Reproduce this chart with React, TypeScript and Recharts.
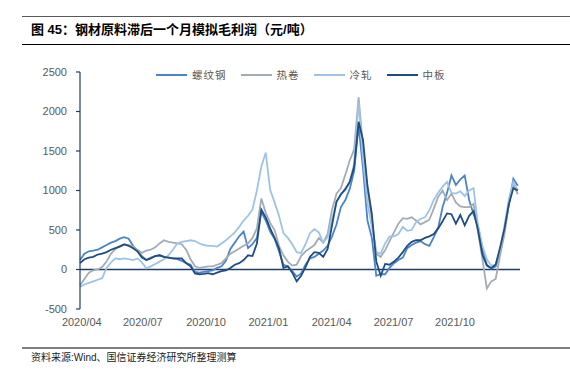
import { LineChart, Line, XAxis, YAxis, ReferenceLine } from 'recharts';

// ── Données (pas d'environ 6,5 jours) ──

const quarterLabels = ['2020/04', '2020/07', '2020/10', '2021/01', '2021/04', '2021/07', '2021/10'];
// position des débuts de trimestre sur l'index des observations
const quarterTicks = [0.4, 14.2, 28.5, 42.6, 56.9, 70.9, 84.8];
const yTicks = [-500, 0, 500, 1000, 1500, 2000, 2500];

// 螺纹钢
const rebar = [
  120, 200, 230, 240, 250, 280, 310, 340, 360, 390,
  410, 390, 300, 230, 170, 120, 150, 170, 180, 160,
  150, 140, 130, 110, 80, 60, -30, -40, -30, -20,
  -10, 20, 40, 110, 260, 340, 420, 480, 270, 320,
  400, 730, 620, 480, 390, 230, 60, 40, -20, -90,
  -50, 60, 140, 160, 200, 240, 300, 420, 570, 790,
  880, 1020, 1250, 1820, 1280, 620, 400, -80, -60, -60,
  20, 80, 120, 150, 270, 310, 340, 360, 320, 300,
  410, 530, 790, 970, 1190, 1070, 1140, 1190, 880, 700,
  550, 260, 60, 10, 40, 220, 500, 830, 1150, 1060,
];

// 热卷
const hot = [
  -200, -120, -40, -10, 0, 30, 100, 200, 260, 300,
  310, 310, 290, 250, 210, 240, 250, 280, 330, 370,
  350, 340, 330, 320, 250, 130, 40, 20, 30, 40,
  40, 60, 80, 140, 200, 230, 265, 300, 330, 400,
  520, 900, 720, 590, 500, 300, 180, 100, 50, 60,
  170, 230, 270, 310, 400, 340, 450, 760, 960, 1030,
  1200, 1380, 1520, 2180, 1550, 1010, 620, 200, 160, 245,
  360, 470, 580, 650, 640, 660, 620, 570, 600, 630,
  770, 920, 1000, 880, 960, 850, 800, 790, 790, 830,
  480, 130, -240, -150, -120, 180, 450, 840, 1080, 950,
];

// 冷轧
const cold = [
  -220, -190, -170, -150, -130, -110, 20, 90, 140, 130,
  140, 130, 120, 140, 90, 15, 40, 70, 100, 130,
  180, 250, 330, 350, 360, 370, 360, 330, 310, 300,
  300, 290, 330, 370, 420, 470, 540, 620, 680, 760,
  1000, 1300, 1480, 1010, 850, 680, 460, 400, 320, 220,
  210, 320, 460, 510, 470, 340, 410, 640, 850, 960,
  1000, 1100, 1350, 2120, 1400, 840, 540, 220, 200, 330,
  420, 420, 450, 540, 490, 500, 600, 640, 660, 750,
  880, 970, 1050, 1110, 970, 960, 990, 930, 1000, 1030,
  560, 300, 130, 50, 60, 250, 560, 900, 1110, 1000,
];

// 中板
const plate = [
  80, 130, 150, 160, 190, 200, 220, 250, 270, 290,
  320, 300, 270, 230, 150, 120, 140, 170, 180, 160,
  150, 140, 140, 140, 80, 40, -50, -60, -55, -45,
  -60, -40, -20, -10, 20, 60, 80, 120, 180, 170,
  330, 760, 660, 520, 400, 270, 20, 40, -40, -150,
  -80, 30, 160, 220, 210, 160, 260, 560, 860, 950,
  1020, 1110, 1300, 1870, 1640, 1060, 700, 100, -80, 70,
  60, 100, 150, 220, 300, 350, 370, 370, 400, 420,
  450, 520, 610, 710, 700, 580, 690, 560, 680, 740,
  500, 190, 50, 20, 60, 280, 520, 830, 1030, 1000,
];

const series = [
  { key: 'rebar', name: '螺纹钢', color: '#4A84CC' },
  { key: 'hot', name: '热卷', color: '#A3ABB5' },
  { key: 'cold', name: '冷轧', color: '#9DC3E8' },
  { key: 'plate', name: '中板', color: '#1F4E7E' },
];

const data = rebar.map((v, i) => ({
  t: i,
  rebar: v,
  hot: hot[i],
  cold: cold[i],
  plate: plate[i],
}));

const AXIS = '#1F3D6B';
const LABEL = '#595959';
const FONT = '"Liberation Sans", Arial, "Noto Sans CJK SC", sans-serif';

function XTick({ x, y, payload }: any) {
  const i = quarterTicks.indexOf(payload.value);
  return (
    <text x={x} y={y} dy="0.8em" textAnchor="middle" fill={LABEL} fontSize={11} fontFamily={FONT}>
      {quarterLabels[i]}
    </text>
  );
}

export default function App() {
  return (
    <div style={{ position: 'absolute', left: 0, top: 0, width: 570, height: 373, background: '#fff', fontFamily: FONT }}>
      <div style={{ position: 'absolute', left: 22, top: 16, width: 548, height: 1, background: '#595959' }} />
      <div style={{ position: 'absolute', left: 31, top: 22, fontSize: 13, fontWeight: 'bold', color: '#000', lineHeight: '16px', whiteSpace: 'nowrap' }}>
        图 45：钢材原料滞后一个月模拟毛利润（元/吨）
      </div>
      <div style={{ position: 'absolute', left: 22, top: 44, width: 548, height: 1, background: '#000' }} />

      <div style={{ position: 'absolute', left: 0, top: 0 }}>
        <LineChart width={570} height={373} data={data} margin={{ top: 72, right: 50, bottom: 44, left: 30 }}>
          <XAxis
            dataKey="t"
            type="number"
            domain={[0, 99.5]}
            ticks={quarterTicks}
            interval={0}
            axisLine={false}
            tickLine={false}
            height={20}
            tick={<XTick />}
          />
          <YAxis
            type="number"
            domain={[-500, 2500]}
            ticks={yTicks}
            width={50}
            axisLine={{ stroke: AXIS, strokeWidth: 1.2 }}
            tickLine={{ stroke: AXIS, strokeWidth: 1.2 }}
            tickSize={4}
            tickMargin={9}
            tick={{ fill: LABEL, fontSize: 11, fontFamily: FONT }}
          />
          <ReferenceLine y={0} stroke={AXIS} strokeWidth={1.4} />
          {series.map((s) => (
            <Line
              key={s.key}
              type="linear"
              dataKey={s.key}
              name={s.name}
              stroke={s.color}
              strokeWidth={1.8}
              dot={false}
              isAnimationActive={false}
            />
          ))}
        </LineChart>
      </div>

      <div style={{ position: 'absolute', left: 156, top: 68, display: 'flex', alignItems: 'center', fontSize: 10.5, color: LABEL, fontFamily: '"Noto Sans CJK SC", sans-serif', lineHeight: '14px' }}>
        {series.map((s) => (
          <div key={s.key} style={{ display: 'flex', alignItems: 'center', marginRight: 14 }}>
            <svg width={31} height={4} style={{ marginRight: 5 }}>
              <line x1={0} y1={2} x2={31} y2={2} stroke={s.color} strokeWidth={2} />
            </svg>
            <span style={{ letterSpacing: 1 }}>{s.name}</span>
          </div>
        ))}
      </div>

      <div style={{ position: 'absolute', left: 22, top: 347, width: 548, height: 2, background: '#7F7F7F' }} />
      <div style={{ position: 'absolute', left: 31, top: 351, fontSize: 10, color: '#222', lineHeight: '13px', whiteSpace: 'nowrap', fontFamily: FONT }}>
        资料来源:Wind、国信证券经济研究所整理测算
      </div>
    </div>
  );
}
